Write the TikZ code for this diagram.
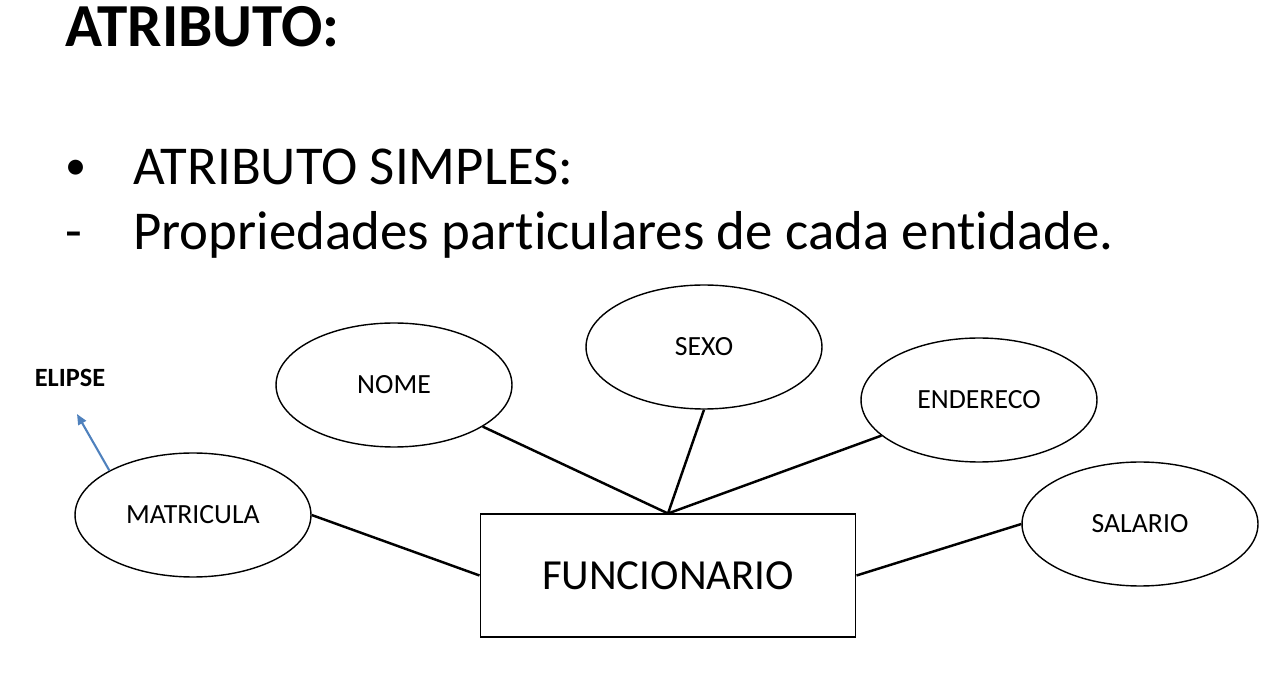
\documentclass[tikz,border=0pt]{standalone}
\usepackage{fontspec}
\setmainfont{Carlito}[Ligatures=NoCommon]
\usepackage{tikz}
\definecolor{main}{RGB}{79,129,189}
\usetikzlibrary{
	arrows.meta,
	positioning,
	shapes.geometric
}
\tikzset{
  % arrow
	cstra/.style      ={-{Triangle[length=6pt,width=5pt]}, main, line width=1.2pt},
  % curve
	cstlink/.style    ={line width=1.4pt, black},
  % node
	cstattr/.style    ={ellipse, draw=black, line width=0.8pt, fill=white, inner sep=0pt,
	                    minimum width=4.72cm, minimum height=2.48cm, font=\fontsize{15.8}{18}\selectfont},
	cstent/.style     ={rectangle, draw=black, line width=0.6pt, fill=white, inner sep=0pt,
	                    minimum width=7.52cm, minimum height=2.46cm, font=\fontsize{24.4}{28}\selectfont},
	csttext/.style    ={anchor=base west, inner sep=0pt, font=\fontsize{31.2}{36}\selectfont}
}
\begin{document}
\begin{tikzpicture}[x=0.02cm,y=-0.02cm]
	\useasboundingbox (0,0) rectangle (1285,695);
	% texts
	\node[csttext, font=\fontsize{34.8}{40}\selectfont\bfseries] (title) at (65,47) {ATRIBUTO:};
	\node[csttext, font=\fontsize{24}{28}\selectfont] (bullet) at (65,180) {•};
	\node[csttext] (simples) at (133,185) {ATRIBUTO SIMPLES:};
	\node[csttext] (dash) at (65,250) {-};
	\node[csttext] (props) at (133,250) {Propriedades particulares de cada entidade.};
	% nodes
	\node[cstent] (func) at (668,575.5) {FUNCIONARIO};
	\node[cstattr] (matricula) at (193,515) {MATRICULA};
	\node[cstattr] (nome) at (394,385) {NOME};
	\node[cstattr] (sexo) at (704,347) {SEXO};
	\node[cstattr] (endereco) at (979,400) {ENDERECO};
	\node[cstattr] (salario) at (1140,524) {SALARIO};
	\node[inner sep=0pt, font=\fontsize{15}{17}\selectfont\bfseries] (elipse) at (70,378) {ELIPSE};
	\coordinate (tip) at (77,414);
	% links
	\draw[cstlink] (matricula.east) -- (func.west);
	\draw[cstlink] (nome) -- (func.north);
	\draw[cstlink] (sexo.south) -- (func.north);
	\draw[cstlink] (endereco) -- (func.north);
	\draw[cstlink] (salario.west) -- (func.east);
	\draw[cstra] (matricula.152) -- (tip);
\end{tikzpicture}
\end{document}
